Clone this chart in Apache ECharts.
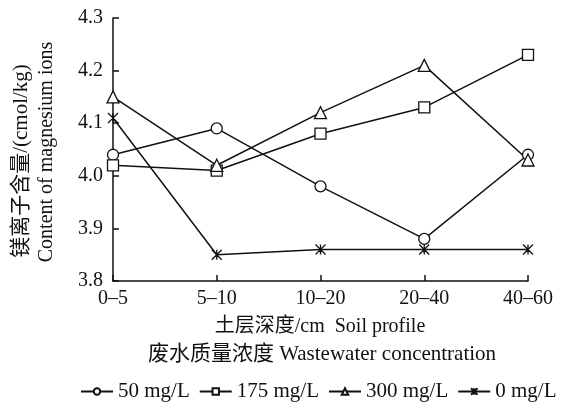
<!DOCTYPE html>
<html><head><meta charset="utf-8">
<script src="https://cdn.jsdelivr.net/npm/echarts@6/dist/echarts.min.js"></script>
<style>html,body{margin:0;padding:0;background:#fff}#c{width:568px;height:402px}</style>
</head><body><div id="c"></div>
<script>
var categories = ['0–5', '5–10', '10–20', '20–40', '40–60'];
var s50 = [4.04, 4.09, 3.98, 3.88, 4.04];
var s175 = [4.02, 4.01, 4.08, 4.13, 4.23];
var s300 = [4.15, 4.02, 4.12, 4.21, 4.03];
var s0 = [4.11, 3.85, 3.86, 3.86, 3.86];
var seriesNames = ['50 mg/L', '175 mg/L', '300 mg/L', '0 mg/L'];

var FONT = '"Liberation Serif", "Noto Sans CJK SC", serif';
var star = 'path://M0 0L10 10M10 0L0 10M5 0L5 10M5 0L5 10Z';
function mk(name, data, symbol, size) {
  return {
    name: name, type: 'line', data: data, symbol: symbol, symbolSize: size,
    lineStyle: {color: '#111', width: 1.5},
    itemStyle: {color: '#fff', borderColor: '#111', borderWidth: 1.3},
    emphasis: {disabled: true}, animation: false, z: symbol === star ? 3 : 2
  };
}
var chart = echarts.init(document.getElementById('c'));
chart.setOption({
  animation: false,
  grid: {left: 113, top: 18, right: 40, bottom: 121, containLabel: false},
  xAxis: {
    type: 'category', data: categories, boundaryGap: false,
    axisLine: {lineStyle: {color: '#111', width: 1.5}},
    axisTick: {inside: true, length: 6, alignWithLabel: true, lineStyle: {color: '#111', width: 1.5}},
    axisLabel: {color: '#111', fontFamily: FONT, fontSize: 20, margin: 8, interval: 0},
    splitLine: {show: false}
  },
  yAxis: {
    type: 'value', min: 3.8, max: 4.3, interval: 0.1,
    axisLine: {show: true, lineStyle: {color: '#111', width: 1.5}},
    axisTick: {show: true, inside: true, length: 6, lineStyle: {color: '#111', width: 1.5}},
    axisLabel: {color: '#111', fontFamily: FONT, fontSize: 20, margin: 10,
      formatter: function (v) { return v.toFixed(1); }},
    splitLine: {show: false}
  },
  legend: {
    data: seriesNames, top: 376, left: 75, itemGap: 9, itemWidth: 32, itemHeight: 8,
    textStyle: {color: '#111', fontFamily: FONT, fontSize: 21, padding: [0, 0, 0, 0]}
  },
  graphic: [
    {type: 'text', x: 21, y: 161, rotation: Math.PI / 2,
      style: {text: '镁离子含量/(cmol/kg)', fontFamily: FONT, fontSize: 21, fill: '#111', align: 'center', verticalAlign: 'middle'}},
    {type: 'text', x: 47, y: 152, rotation: Math.PI / 2,
      style: {text: 'Content of magnesium ions', fontFamily: FONT, fontSize: 20, fill: '#111', align: 'center', verticalAlign: 'middle'}},
    {type: 'text', x: 320, y: 327,
      style: {text: '土层深度/cm  Soil profile', fontFamily: FONT, fontSize: 20, fill: '#111', align: 'center', verticalAlign: 'middle'}},
    {type: 'text', x: 322, y: 354,
      style: {text: '废水质量浓度 Wastewater concentration', fontFamily: FONT, fontSize: 21, fill: '#111', align: 'center', verticalAlign: 'middle'}}
  ],
  series: [
    mk(seriesNames[0], s50, 'circle', 11),
    mk(seriesNames[1], s175, 'rect', 11),
    mk(seriesNames[2], s300, 'triangle', 12),
    mk(seriesNames[3], s0, star, 10)
  ]
});
</script></body></html>
